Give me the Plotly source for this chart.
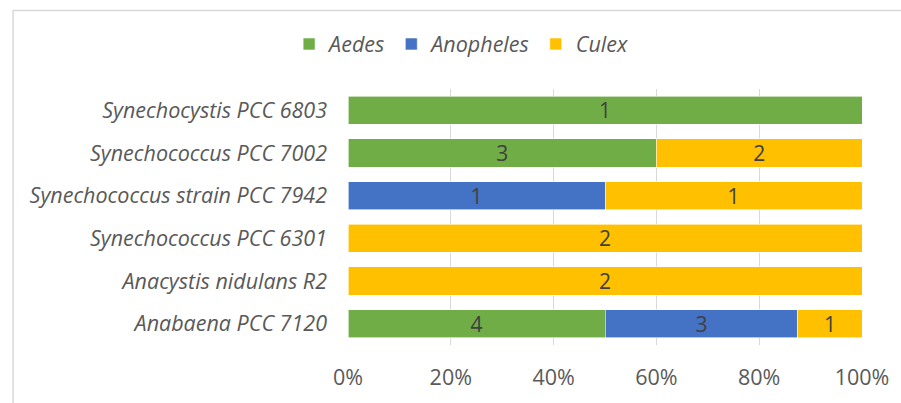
import plotly.graph_objects as go

categories = ["Anabaena PCC 7120", "Anacystis nidulans R2", "Synechococcus PCC 6301",
              "Synechococcus strain PCC 7942", "Synechococcus PCC 7002", "Synechocystis PCC 6803"]
aedes = [4, 0, 0, 0, 3, 1]
anopheles = [3, 0, 0, 1, 0, 0]
culex = [1, 2, 2, 1, 2, 0]
ticks = [0, 20, 40, 60, 80, 100]

series = [("Aedes", aedes, "#70AD47"), ("Anopheles", anopheles, "#4472C4"), ("Culex", culex, "#FFC000")]

fig = go.Figure()
for name, vals, color in series:
    v = [x if x else None for x in vals]
    fig.add_trace(go.Bar(
        y=categories, x=v, name=name, orientation="h",
        marker=dict(color=color, line=dict(color="white", width=0.6)),
        text=[str(x) if x else "" for x in vals],
        textposition="inside", insidetextanchor="middle", textangle=0,
        constraintext="none",
        textfont=dict(family="Open Sans", size=21, color="#404040"),
        hoverinfo="skip",
    ))

W, H = 901, 403
ml, mr, mt, mb = 348, 35, 89, 58
pw, ph = W - ml - mr, H - mt - mb

def px_to_paper_x(px):
    return (px - ml) / pw

def px_to_paper_y(py):
    return 1 - (py - mt) / ph

fig.update_layout(
    width=W, height=H,
    margin=dict(l=ml, r=mr, t=mt, b=mb),
    barmode="stack", barnorm="percent", bargap=0.34,
    plot_bgcolor="white", paper_bgcolor="white",
    font=dict(family="Open Sans", color="#595959"),
    showlegend=True,
    legend=dict(orientation="h", x=px_to_paper_x(462), xanchor="center",
                y=px_to_paper_y(44), yanchor="middle",
                font=dict(family="Open Sans", size=21.5, color="#595959", style="italic"),
                itemwidth=30, traceorder="normal"),
    xaxis=dict(range=[0, 100], tickvals=ticks, ticktext=[f"{t}%" for t in ticks],
               showgrid=True, gridcolor="#d9d9d9", gridwidth=1,
               zeroline=False, showline=False, ticks="",
               tickfont=dict(family="Open Sans", size=21.5, color="#595959"),
               ticklabelstandoff=17, fixedrange=True),
    yaxis=dict(categoryorder="array", categoryarray=categories,
               showgrid=False, zeroline=False, showline=False, ticks="",
               tickfont=dict(family="Open Sans", size=21.5, color="#595959", style="italic"),
               ticklabelstandoff=20, fixedrange=True),
    shapes=[dict(type="rect", xref="paper", yref="paper",
                 x0=px_to_paper_x(10.5), x1=px_to_paper_x(1000),
                 y0=px_to_paper_y(1000), y1=px_to_paper_y(10.5),
                 line=dict(color="#d9d9d9", width=1.5), fillcolor="rgba(0,0,0,0)", layer="below")],
)

fig.write_html("out.html", config={"displayModeBar": False},
               post_script="document.body.style.margin='0';document.body.style.overflow='hidden';")
